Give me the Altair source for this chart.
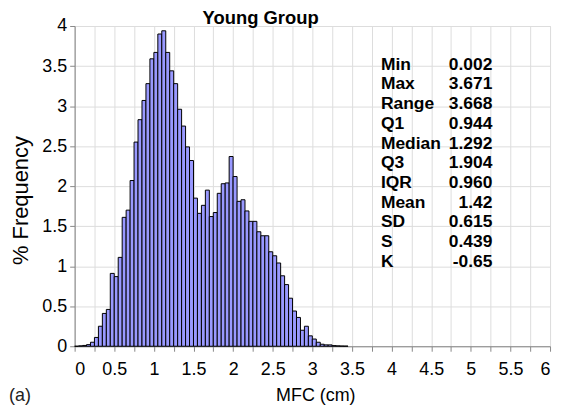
import altair as alt
import pandas as pd

# ---- data ----
bin_width = 0.05
freq = [
    0.0, 0.005, 0.01, 0.02, 0.05, 0.11, 0.25, 0.41, 0.46, 0.91,
    0.87, 1.11, 1.61, 1.70, 2.07, 2.55, 2.83, 3.07, 3.28, 3.59,
    3.67, 3.90, 3.94, 3.67, 3.44, 3.28, 2.96, 2.75, 2.49, 2.32,
    1.85, 1.66, 1.76, 1.95, 1.62, 1.67, 1.91, 2.03, 2.04, 2.37,
    2.12, 1.81, 1.83, 1.69, 1.56, 1.56, 1.43, 1.38, 1.38, 1.18,
    1.13, 1.04, 0.88, 0.77, 0.60, 0.44, 0.36, 0.20, 0.25, 0.13,
    0.09, 0.05, 0.025, 0.017, 0.017, 0.008, 0.005, 0.003, 0.002,
]
stat_names = ["Min", "Max", "Range", "Q1", "Median", "Q3", "IQR", "Mean", "SD", "S", "K"]
stat_values = ["0.002", "3.671", "3.668", "0.944", "1.292", "1.904", "0.960", "1.42", "0.615", "0.439", "-0.65"]
title_text = "Young Group"
x_ticks = [i * 0.25 for i in range(25)]
y_ticks = [i * 0.5 for i in range(9)]

FONT = "Liberation Sans"
W, H = 478, 322

df = pd.DataFrame({
    "start": [i * bin_width for i in range(len(freq))],
    "end": [(i + 1) * bin_width for i in range(len(freq))],
    "freq": freq,
})

bars = alt.Chart(df).mark_bar(
    fill="#9999ff", stroke="#000000", strokeWidth=1, opacity=1
).encode(
    x=alt.X("start:Q", scale=alt.Scale(domain=[0, 6], nice=False),
            axis=alt.Axis(values=x_ticks, title="MFC (cm)",
                          labelExpr="datum.value % 0.5 == 0 ? format(datum.value, '~g') : ''",
                          labelPadding=9, labelFontSize=18, titleFontSize=18,
                          titleFontWeight="normal", titleX=W / 2 + 3, titleY=50,
                          titleBaseline="middle", titleAlign="center")),
    x2="end:Q",
    y=alt.Y("freq:Q", scale=alt.Scale(domain=[0, 4], nice=False),
            axis=alt.Axis(values=y_ticks, format="~g", title="% Frequency",
                          labelPadding=3, labelFontSize=18, titleFontSize=22,
                          titleFontWeight="normal", titleAngle=-90,
                          titleX=-54, titleY=175, titleBaseline="middle", titleAlign="center")),
    y2=alt.datum(0),
)

lab_df = pd.DataFrame({"t": ["\n".join(stat_names)]})
val_df = pd.DataFrame({"t": ["\n".join(stat_values)]})
title_df = pd.DataFrame({"t": [title_text]})

labels = alt.Chart(lab_df).mark_text(
    align="left", baseline="top", lineBreak="\n", lineHeight=19.8,
    font=FONT, fontSize=17.5, fontWeight="bold", color="#000000"
).encode(x=alt.value(308), y=alt.value(30), text="t:N")

values = alt.Chart(val_df).mark_text(
    align="right", baseline="top", lineBreak="\n", lineHeight=19.8,
    font=FONT, fontSize=17.5, fontWeight="bold", color="#000000"
).encode(x=alt.value(420), y=alt.value(30), text="t:N")

panel = alt.Chart(pd.DataFrame({"t": ["(a)"]})).mark_text(
    align="left", baseline="middle", font=FONT, fontSize=18, color="#222222"
).encode(x=alt.value(-66), y=alt.value(H + 50), text="t:N")

title = alt.Chart(title_df).mark_text(
    align="center", baseline="alphabetic", font=FONT, fontSize=18.5,
    fontWeight="bold", color="#000000"
).encode(x=alt.value(187), y=alt.value(-2), text="t:N")

chart = alt.layer(bars, labels, values, panel, title).properties(
    width=W, height=H,
    autosize=alt.AutoSizeParams(type="none"),
    padding={"left": 67, "top": 17, "right": 8, "bottom": 63},
).configure_axis(
    labelFont=FONT, titleFont=FONT, labelColor="#222222", titleColor="#222222",
    domainColor="#000000", tickColor="#000000", tickSize=5, grid=False,
    domainWidth=1, tickWidth=1,
).configure_view(stroke=None).configure(background="#ffffff")

chart.save("out.html", embed_options={"renderer": "svg", "actions": False})
